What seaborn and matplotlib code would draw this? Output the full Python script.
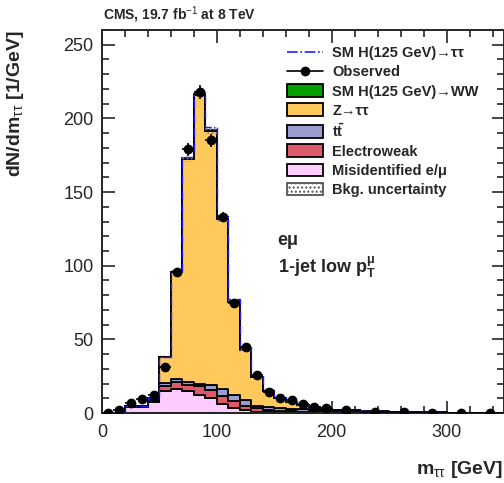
import numpy as np
import pandas as pd
import matplotlib
matplotlib.use("Agg")
import matplotlib.pyplot as plt
import seaborn as sns
from matplotlib.patches import Patch
from matplotlib.lines import Line2D
from matplotlib.ticker import MultipleLocator

# ---------------- data (dN/dm per GeV) ----------------
bin_edges = [0, 10, 20, 30, 40, 50, 60, 70, 80, 90, 100, 110, 120, 130, 140,
             150, 160, 170, 180, 190, 200, 225, 250, 275, 300, 325, 350]
misid = [0, 0, 4.0, 4.0, 7.5, 14.9, 16.3, 14.9, 12.5, 10.5, 6.0, 3.2, 1.8, 0.9,
         0.6, 0.4, 0.3, 0.2, 0.15, 0.1, 0.05, 0.03, 0.02, 0.01, 0.01, 0.01]
ewk = [0, 0, 0.3, 0.3, 1.5, 3.7, 5.0, 4.1, 5.5, 5.0, 5.8, 5.0, 3.2, 2.3,
       1.6, 1.2, 0.9, 0.7, 0.5, 0.4, 0.3, 0.2, 0.12, 0.08, 0.05, 0.04]
ttbar = [0, 0, 0.2, 0.2, 0.5, 1.6, 2.0, 2.0, 2.0, 3.5, 4.6, 3.9, 3.5, 1.8,
         2.0, 1.9, 1.8, 1.6, 1.4, 1.2, 0.8, 0.5, 0.3, 0.2, 0.15, 0.1]
ztt = [0, 0, 0, 0, 0.5, 17.8, 72.4, 151.5, 196.0, 172.7, 115.1, 63.3, 34.5, 19.5,
       10.8, 6.5, 4.5, 2.9, 1.75, 1.3, 0.75, 0.27, 0.11, 0.06, 0.04, 0.03]
hww = [0, 0, 0, 0, 0.05, 0.1, 0.2, 0.3, 0.4, 0.4, 0.4, 0.3, 0.3, 0.2,
       0.2, 0.1, 0.1, 0.1, 0.05, 0.05, 0.03, 0.02, 0.01, 0.01, 0, 0]
htt = [0, 0, 0, 0, 0.1, 0.2, 0.5, 1.0, 1.5, 2.0, 2.2, 2.0, 1.6, 1.2,
       0.8, 0.5, 0.3, 0.2, 0.1, 0.1, 0.05, 0.02, 0.01, 0.0, 0, 0]
bkg_unc = [0, 0, 0.3, 0.3, 0.5, 1.0, 1.6, 2.4, 2.8, 2.6, 2.0, 1.3, 0.9, 0.6,
           0.4, 0.3, 0.25, 0.2, 0.15, 0.12, 0.08, 0.05, 0.03, 0.02, 0.02, 0.01]
observed = [0.3, 2.0, 7.0, 9.5, 12.5, 31.0, 95.5, 179.0, 217.7, 185.0, 133.0, 74.7, 45.0, 26.0,
            14.0, 10.3, 8.6, 6.2, 4.0, 3.2, 1.8, 0.9, 0.4, 0.3, 0.2, 0.2]
observed_err = [0.17, 0.45, 0.84, 0.97, 1.1, 1.8, 3.1, 4.2, 4.7, 4.3, 3.6, 2.7, 2.1, 1.6,
                1.2, 1.0, 0.9, 0.8, 0.6, 0.6, 0.27, 0.19, 0.13, 0.11, 0.09, 0.09]

proc_keys = ["hww", "ztt", "ttbar", "ewk", "misid"]
proc_labels = ["SM H(125 GeV)→WW", "Z→ττ", r"$\mathbf{t\bar{t}}$", "Electroweak", "Misidentified e/μ"]
proc_colors = ["#00A000", "#FFC95C", "#9C9CCE", "#DE5A6A", "#FFCCFF"]

# ---------------- style ----------------
sns.set_style("ticks")
plt.rcParams["font.family"] = ["Liberation Sans", "DejaVu Sans"]
plt.rcParams["mathtext.fontset"] = "custom"
plt.rcParams["mathtext.rm"] = "Liberation Sans"
plt.rcParams["mathtext.it"] = "Liberation Sans:italic"
plt.rcParams["mathtext.bf"] = "Liberation Sans:bold"
plt.rcParams["hatch.color"] = "#888888"
plt.rcParams["hatch.linewidth"] = 1.0

fig = plt.figure(figsize=(5.04, 4.83), dpi=100)
ax = fig.add_axes([102 / 504, 1 - 413 / 483, (504 - 102) / 504, (413 - 30) / 483])

edges = np.array(bin_edges, dtype=float)
centers = 0.5 * (edges[:-1] + edges[1:])
halfw = 0.5 * np.diff(edges)

frames = []
for key, vals in zip(proc_keys, [hww, ztt, ttbar, ewk, misid]):
    frames.append(pd.DataFrame({"m": centers, "w": vals, "proc": key}))
df = pd.concat(frames, ignore_index=True)

sns.histplot(data=df, x="m", weights="w", hue="proc", hue_order=proc_keys,
             bins=list(bin_edges), multiple="stack", element="step",
             palette=dict(zip(proc_keys, proc_colors)), alpha=1,
             edgecolor="black", linewidth=1.3, legend=False, ax=ax)

total = np.sum([np.array(v) for v in [hww, ztt, ttbar, ewk, misid]], axis=0)
unc = np.array(bkg_unc)

ax.stairs(total + unc, edges, baseline=total - unc, fill=True, facecolor="none",
          edgecolor="#888888", hatch="....", linewidth=0, zorder=3)
ax.stairs(total + np.array(htt), edges, baseline=None, color="#2020FF",
          linestyle="-.", linewidth=1.0, zorder=4)
ax.errorbar(centers, observed, xerr=halfw, yerr=observed_err, fmt="o",
            color="black", ms=6, elinewidth=1.2, capsize=0, zorder=5)

ax.set_xlim(0, 350)
ax.set_ylim(0, 260)
ax.xaxis.set_major_locator(MultipleLocator(100))
ax.xaxis.set_minor_locator(MultipleLocator(20))
ax.yaxis.set_major_locator(MultipleLocator(50))
ax.yaxis.set_minor_locator(MultipleLocator(10))
ax.tick_params(which="both", direction="in", top=True, right=True, width=1.2)
ax.tick_params(which="major", length=9, labelsize=13)
ax.tick_params(axis="x", which="major", pad=8)
ax.tick_params(axis="y", which="major", pad=6)
ax.tick_params(which="minor", length=5)
for s in ax.spines.values():
    s.set_linewidth(1.4)
    s.set_visible(True)

ax.set_xlabel(r"m$_{\mathrm{\tau\tau}}$ [GeV]", fontsize=14, fontweight="bold", loc="right")
ax.set_ylabel(r"dN/dm$_{\mathrm{\tau\tau}}$ [1/GeV]", fontsize=14, fontweight="bold", loc="top")
ax.xaxis.set_label_coords(0.997, -0.12)
ax.yaxis.set_label_coords(-0.19, 1.0)

fig.text(103 / 504, 1 - 15 / 483, "CMS, 19.7 fb$^{-1}$ at 8 TeV", fontsize=10,
         fontweight="bold", ha="left", va="center")

ax.text(153, 117, "eμ", fontsize=13, fontweight="bold", ha="left", va="center")
ax.text(153, 99, r"1-jet low p$_\mathbf{T}^{\mathbf{\mu}}$", fontsize=13,
        fontweight="bold", ha="left", va="center")

handles = [Line2D([], [], color="#2020FF", linestyle="-.", linewidth=1.2),
           Line2D([], [], color="black", marker="o", ms=6, linewidth=1.2)]
for c in proc_colors:
    handles.append(Patch(facecolor=c, edgecolor="black", linewidth=1.3))
handles.append(Patch(facecolor="white", edgecolor="#555555", hatch="....", linewidth=1.3))
labels = ["SM H(125 GeV)→ττ", "Observed"] + proc_labels + ["Bkg. uncertainty"]
leg = ax.legend(handles, labels, loc="upper left", bbox_to_anchor=(287 / 504, 1 - 46 / 483),
                bbox_transform=fig.transFigure, frameon=False, borderpad=0, borderaxespad=0,
                handlelength=2.5, handleheight=0.95, handletextpad=0.6, labelspacing=0.33,
                prop={"size": 10.5, "weight": "bold"})

fig.savefig("out.png", dpi=100)
